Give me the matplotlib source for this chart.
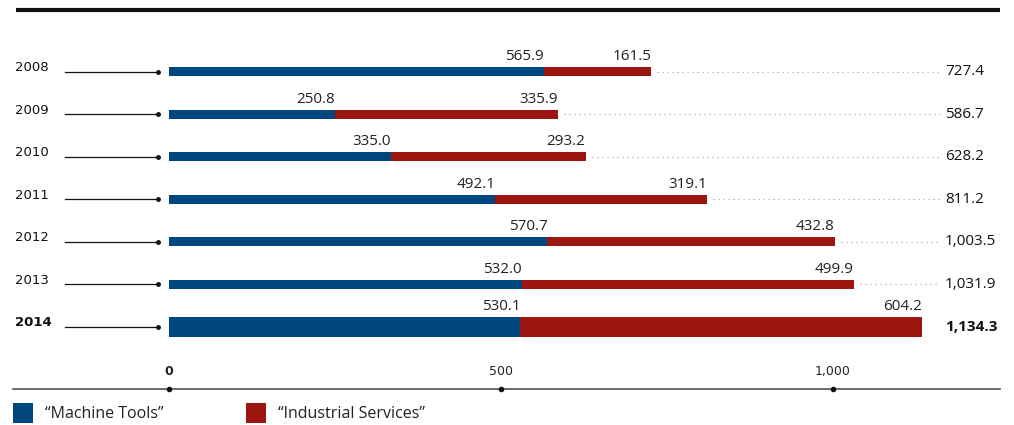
import matplotlib
matplotlib.use("Agg")
import matplotlib.pyplot as plt

years = ["2008", "2009", "2010", "2011", "2012", "2013", "2014"]
machine_tools = [565.9, 250.8, 335.0, 492.1, 570.7, 532.0, 530.1]
industrial_services = [161.5, 335.9, 293.2, 319.1, 432.8, 499.9, 604.2]
mt_labels = ["565.9", "250.8", "335.0", "492.1", "570.7", "532.0", "530.1"]
is_labels = ["161.5", "335.9", "293.2", "319.1", "432.8", "499.9", "604.2"]
total_labels = ["727.4", "586.7", "628.2", "811.2", "1,003.5", "1,031.9", "1,134.3"]
xticks = [0, 500, 1000]
xtick_labels = ["0", "500", "1,000"]
legend_labels = ["\u201cMachine Tools\u201d", "\u201cIndustrial Services\u201d"]

BLUE = "#00477f"
RED = "#9b1610"
W, H = 1014, 425
plt.rcParams['font.family'] = ['Open Sans', 'DejaVu Sans']

fig = plt.figure(figsize=(W / 100, H / 100), dpi=100)
ax = fig.add_axes([0, 0, 1, 1])
ax.axis("off")

# pixel mapping: x pixel = x0 + sx*v ; y pixel = 72 + 42.5*i
sx = 0.664
x0 = 168.5
ax.set_xlim(-x0 / sx, (W - x0) / sx)
ax.set_ylim((H - 72) / 42.5, -72 / 42.5)


def xpix_to_data(p):
    return (p - x0) / sx


def ypix_to_data(p):
    return (p - 72) / 42.5


ypix = 1 / 42.5  # one pixel in y data units
n = len(years)
for i in range(n):
    last = (i == n - 1)
    h = 20 * ypix if last else 9 * ypix
    mt = machine_tools[i]
    is_ = industrial_services[i]
    tot = mt + is_
    ax.barh(i, mt, height=h, left=0, color=BLUE, linewidth=0)
    ax.barh(i, is_, height=h, left=mt, color=RED, linewidth=0)
    top = i - h / 2 - 3 * ypix
    ax.text(mt, top, mt_labels[i], ha="right", va="bottom", fontsize=11, color="#222222")
    ax.text(tot, top, is_labels[i], ha="right", va="bottom", fontsize=11, color="#222222")
    # dotted leader
    if not last:
        ax.plot([tot + 6 / sx, xpix_to_data(940)], [i, i], linestyle=(0, (1, 3)),
                color="#b0b0b0", linewidth=0.9)
    ax.text(xpix_to_data(945), i, total_labels[i], ha="left", va="center",
            fontsize=11, color="#111111", fontweight="bold" if last else "normal")
    # year label and leader line
    ax.text(xpix_to_data(15), i - 4 * ypix, years[i], ha="left", va="center",
            fontsize=9.5, family="DejaVu Sans", color="#111111",
            fontweight="bold" if last else "normal")
    ax.plot([xpix_to_data(65), xpix_to_data(158)], [i, i], color="#111111", linewidth=0.9)
    ax.plot([xpix_to_data(158)], [i], marker="o", markersize=2.5, color="#111111")

# top thick line
ytop = ypix_to_data(10)
ax.plot([xpix_to_data(16), xpix_to_data(1000)], [ytop, ytop], color="#111111",
        linewidth=3, solid_capstyle="butt")

# bottom axis
yax = ypix_to_data(389)
ax.plot([xpix_to_data(13), xpix_to_data(1000)], [yax, yax], color="#555555", linewidth=1.2)
for t, lab in zip(xticks, xtick_labels):
    ax.plot([t], [yax], marker="o", markersize=3, color="#111111")
    ax.text(t, ypix_to_data(372), lab, ha="center", va="center", fontsize=9,
            family="DejaVu Sans", color="#222222",
            fontweight="bold" if t == 0 else "normal")

# legend
yl = ypix_to_data(414)
for xs, lab, col in [(13, legend_labels[0], BLUE), (246, legend_labels[1], RED)]:
    ax.add_patch(plt.Rectangle((xpix_to_data(xs), ypix_to_data(403)), 20 / sx, 20 * ypix,
                               color=col, linewidth=0))
    ax.text(xpix_to_data(xs + 32), yl, lab, ha="left", va="center", fontsize=11.5,
            color="#222222")

fig.savefig("out.png", dpi=100)
